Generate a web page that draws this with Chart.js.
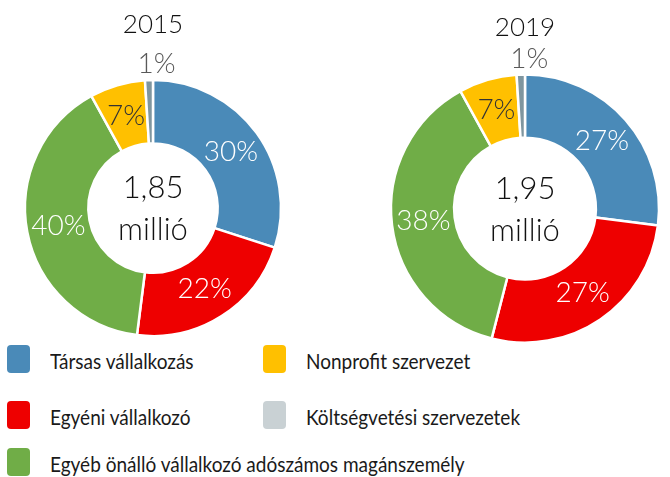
<!DOCTYPE html>
<html lang="hu">
<head>
<meta charset="utf-8">
<script src="https://cdn.jsdelivr.net/npm/chart.js@4"></script>
<style>
  body { margin: 0; background: #fff; }
  #wrap { position: relative; width: 670px; height: 477px; overflow: hidden; font-family: Lato, "Open Sans", sans-serif; }
  .pie { position: absolute; top: 0; }
  #pie2015 { left: 0; }
  #pie2019 { left: 380px; }
  .legend-item { position: absolute; height: 28px; display: flex; align-items: center; font-size: 21px; font-weight: 400; color: #1a1a1a; white-space: nowrap; }
  .legend-item .box { width: 23px; height: 28px; border-radius: 4px; margin-right: 20px; flex: none; }
  .legend-item .txt { display: inline-block; transform: scaleX(0.905); transform-origin: left center; margin-top: 3px; }
</style>
</head>
<body>
<div id="wrap">
  <div class="pie" id="pie2015" style="width:306px;height:340px"><canvas id="chart2015"></canvas></div>
  <div class="pie" id="pie2019" style="width:290px;height:344px"><canvas id="chart2019"></canvas></div>
  <div id="legend"></div>
</div>
<script>
/* ==========================================
   DATA
========================================== */

const categories = [
  "Társas vállalkozás",
  "Egyéni vállalkozó",
  "Egyéb önálló vállalkozó adószámos magánszemély",
  "Nonprofit szervezet",
  "Költségvetési szervezetek"
];

const years = ["2015", "2019"];
const values2015 = [30, 22, 40, 7, 1];
const values2019 = [27, 27, 38, 7, 1];
const totals = ["1,85", "1,95"];

const sliceColors = ["#4a8ab8", "#ee0000", "#70ad47", "#ffc000", "#7f969f"];
const legendColors = ["#4a8ab8", "#ee0000", "#70ad47", "#ffc000", "#c9d1d4"];
const labelColors = ["#ffffff", "#ffffff", "#ffffff", "#333333", "#595959"];

const FONT = "Lato, 'Open Sans', sans-serif";

/* ==========================================
   SLICE LABELS + CENTER TEXT PLUGIN
========================================== */

const donutText = {
  id: "donutText",
  afterDatasetsDraw(chart, args, opts) {
    const ctx = chart.ctx;
    const meta = chart.getDatasetMeta(0);
    const data = chart.data.datasets[0].data;

    ctx.save();
    ctx.textAlign = "center";
    ctx.textBaseline = "middle";
    ctx.font = "300 28px " + FONT;

    meta.data.forEach((arc, i) => {
      const p = arc.getProps(["x", "y", "startAngle", "endAngle", "innerRadius", "outerRadius"], true);
      const mid = (p.startAngle + p.endAngle) / 2;
      let r = (p.innerRadius + p.outerRadius) / 2;
      let dx = 0;
      if (data[i] < 3) {
        r = p.outerRadius + 16;
        dx = opts.smallShift;
      }
      ctx.fillStyle = labelColors[i];
      ctx.fillText(data[i] + "%", p.x + Math.cos(mid) * r + dx, p.y + Math.sin(mid) * r);
    });

    /* CENTER TEXT */
    const c = meta.data[0];
    ctx.fillStyle = "#111";
    ctx.font = "300 31px " + FONT;
    ctx.fillText(opts.total, c.x, c.y - 20);
    ctx.fillText("millió", c.x, c.y + 22);
    ctx.restore();
  }
};

/* ==========================================
   DONUT FACTORY
========================================== */

function makeDonut(id, year, values, total, outer, inner, titlePad, shift) {
  return new Chart(document.getElementById(id), {
    type: "doughnut",
    data: {
      labels: categories,
      datasets: [{
        data: values,
        backgroundColor: sliceColors,
        borderColor: "#ffffff",
        borderWidth: 2.5
      }]
    },
    options: {
      responsive: true,
      maintainAspectRatio: false,
      animation: false,
      radius: outer,
      cutout: inner,
      layout: { padding: 0 },
      plugins: {
        legend: { display: false },
        tooltip: { enabled: false },
        title: {
          display: true,
          text: year,
          color: "#111",
          font: { family: FONT, size: 26, weight: 300, lineHeight: 1.2 },
          padding: titlePad
        },
        donutText: { total: total, smallShift: shift }
      }
    },
    plugins: [donutText]
  });
}

makeDonut("chart2015", years[0], values2015, totals[0], 128, 66, { top: 9, bottom: 36 }, 8);
makeDonut("chart2019", years[1], values2019, totals[1], 134, 71, { top: 12, bottom: 30 }, 9);

/* ==========================================
   LEGEND
========================================== */

const legendPos = [
  [7, 345], [7, 401], [7, 448], [263, 345], [263, 401]
];

const legend = document.getElementById("legend");
categories.forEach((name, i) => {
  const item = document.createElement("div");
  item.className = "legend-item";
  item.style.left = legendPos[i][0] + "px";
  item.style.top = legendPos[i][1] + "px";
  item.innerHTML = '<span class="box" style="background:' + legendColors[i] + '"></span><span class="txt">' + name + '</span>';
  legend.appendChild(item);
});
</script>
</body>
</html>
